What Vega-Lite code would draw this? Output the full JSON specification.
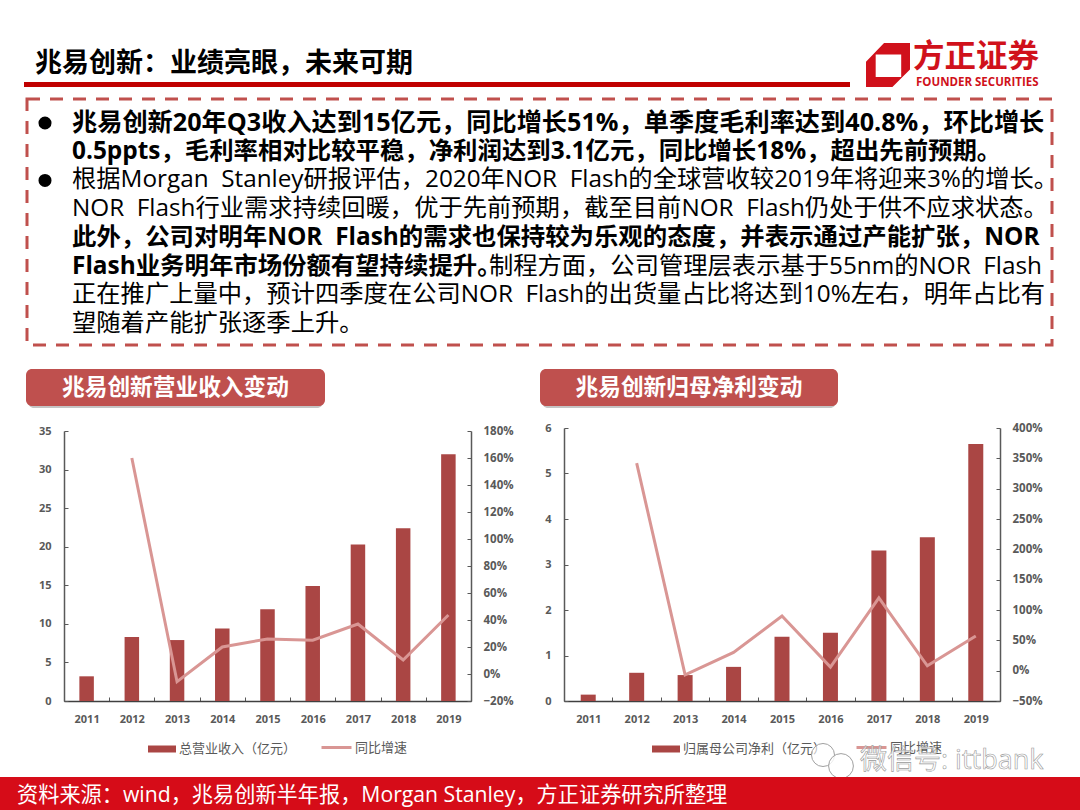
{"$schema":"https://vega.github.io/schema/vega-lite/v6.json","padding":0,"background":"white","spacing":0,"bounds":"flush","config":{"view":{"stroke":null},"font":"Open Sans, Noto Sans CJK SC","text":{"font":"Open Sans, Noto Sans CJK SC"}},"vconcat":[
{"width":1080,"height":82,"data":{"values":[{"t":"兆易创新：业绩亮眼，未来可期","k":"title"},{"t":"方正证券","k":"logo1"},{"t":"FOUNDER SECURITIES","k":"logo2"},{"t":"mark","k":"mark"}]},"layer":[
{"transform":[{"filter":"datum.k=='title'"}],"mark":{"type":"text","align":"left","baseline":"middle","fontSize":27,"fontWeight":"bold","color":"#000000","x":35,"y":64},"encoding":{"text":{"field":"t"}}},
{"transform":[{"filter":"datum.k=='logo1'"}],"mark":{"type":"text","align":"left","baseline":"middle","fontSize":31.5,"fontWeight":"bold","color":"#d0111b","font":"Noto Sans CJK SC","x":913,"y":58},"encoding":{"text":{"field":"t"}}},
{"transform":[{"filter":"datum.k=='logo2'"}],"mark":{"type":"text","align":"left","baseline":"middle","fontSize":11.5,"fontWeight":"bold","color":"#d0111b","x":916,"y":83},"encoding":{"text":{"field":"t"}}},
{"transform":[{"filter":"datum.k=='mark'"}],"mark":{"type":"point","filled":true,"shape":"M-1,-0.15L-0.18,-1L1,-1L1,0.2L0.2,1L-1,1ZM-0.56,-0.48L-0.56,0.55L0.6,0.55L0.6,-0.48Z","size":1936,"opacity":1,"color":"#d0111b","x":888,"y":65},"encoding":{}}
]},
{"hconcat":[{"width":24,"height":5,"data":{"values":[]},"mark":"rect","encoding":{}},{"width":826,"height":5,"view":{"fill":"#c00000"},"data":{"values":[]},"mark":"rect","encoding":{}}],"spacing":0,"bounds":"flush"},
{"width":1080,"height":17,"data":{"values":[]},"mark":"rect","encoding":{}},
{"hconcat":[{"width":27,"height":246,"data":{"values":[]},"mark":"rect","encoding":{}},{"width":1025,"height":246,"view":{"stroke":"#c0504d","strokeWidth":3,"strokeDash":[13,10]},"data":{"values":[
{"line":1,"w":"b","t":"兆易创新20年Q3收入达到15亿元，同比增长51%，单季度毛利率达到40.8%，环比增长"},
{"line":2,"w":"b","t":"0.5ppts，毛利率相对比较平稳，净利润达到3.1亿元，同比增长18%，超出先前预期。"},
{"line":3,"w":"n","t":"根据Morgan\u00a0\u00a0Stanley研报评估，2020年NOR\u00a0\u00a0Flash的全球营收较2019年将迎来3%的增长。"},
{"line":4,"w":"n","t":"NOR\u00a0\u00a0Flash行业需求持续回暖，优于先前预期，截至目前NOR\u00a0\u00a0Flash仍处于供不应求状态。"},
{"line":5,"w":"b","t":"此外，公司对明年NOR\u00a0\u00a0Flash的需求也保持较为乐观的态度，并表示通过产能扩张，NOR"},
{"line":6,"w":"b","t":"Flash业务明年市场份额有望持续提升。"},
{"line":6,"w":"r","t":"制程方面，公司管理层表示基于55nm的NOR\u00a0\u00a0Flash"},
{"line":7,"w":"n","t":"正在推广上量中，预计四季度在公司NOR\u00a0\u00a0Flash的出货量占比将达到10%左右，明年占比有"},
{"line":8,"w":"n","t":"望随着产能扩张逐季上升。"}
]},"encoding":{"y":{"field":"line","type":"ordinal","axis":null,"scale":{"type":"point","padding":0,"domain":[1,2,3,4,5,6,7,8],"range":[24,225]}}},"layer":[
{"transform":[{"filter":"datum.line==1"}],"mark":{"type":"text","align":"left","baseline":"middle","fontSize":25.2,"fontWeight":"bold","color":"#000000","x":45},"encoding":{"text":{"field":"t"}}},
{"transform":[{"filter":"datum.line==2||datum.line==5||datum.line==6&&datum.w=='b'"}],"mark":{"type":"text","align":"left","baseline":"middle","fontSize":24.4,"fontWeight":"bold","color":"#000000","x":45},"encoding":{"text":{"field":"t"}}},
{"transform":[{"filter":"datum.w=='n'"}],"mark":{"type":"text","align":"left","baseline":"middle","fontSize":24.3,"color":"#000000","x":45},"encoding":{"text":{"field":"t"}}},
{"transform":[{"filter":"datum.w=='r'"}],"mark":{"type":"text","align":"right","baseline":"middle","fontSize":24.3,"color":"#000000","x":1015},"encoding":{"text":{"field":"t"}}},
{"transform":[{"filter":"datum.line==1||datum.line==3"}],"mark":{"type":"point","filled":true,"shape":"circle","size":170,"opacity":1,"color":"#000000","x":18},"encoding":{}}
]}],"spacing":0,"bounds":"flush"},
{"width":1080,"height":270,"data":{"values":[]},"mark":"rect","encoding":{}},
{"hconcat":[{"width":28,"height":39,"data":{"values":[]},"mark":"rect","encoding":{}},
{"width":295,"height":39,"view":{"fill":"#c4c4c4","cornerRadius":6},"data":{"values":[]},"mark":"rect","encoding":{}},
{"width":219,"height":39,"data":{"values":[]},"mark":"rect","encoding":{}},
{"width":294,"height":39,"view":{"fill":"#c4c4c4","cornerRadius":6},"data":{"values":[]},"mark":"rect","encoding":{}}],"spacing":0,"bounds":"flush"},
{"hconcat":[{"width":26,"height":37,"data":{"values":[]},"mark":"rect","encoding":{}},
{"width":299,"height":37,"view":{"fill":"#bf504e","cornerRadius":6},"data":{"values":[{"t":"兆易创新营业收入变动"}]},"mark":{"type":"text","fontSize":22.7,"fontWeight":"bold","color":"white","baseline":"middle"},"encoding":{"text":{"field":"t"}}},
{"width":215,"height":37,"data":{"values":[]},"mark":"rect","encoding":{}},
{"width":298,"height":37,"view":{"fill":"#bf504e","cornerRadius":6},"data":{"values":[{"t":"兆易创新归母净利变动"}]},"mark":{"type":"text","fontSize":22.7,"fontWeight":"bold","color":"white","baseline":"middle"},"encoding":{"text":{"field":"t"}}}],"spacing":0,"bounds":"flush"},
{"width":1080,"height":59,"data":{"values":[]},"mark":"rect","encoding":{}},
{"hconcat":[{"width":64,"height":273,"data":{"values":[]},"mark":"rect","encoding":{}},
{"width":407,"height":273,"data":{"values":[
{"year":"2011","rev":3.2,"g":null},{"year":"2012","rev":8.3,"g":1.60},{"year":"2013","rev":7.9,"g":-0.057},{"year":"2014","rev":9.4,"g":0.20},{"year":"2015","rev":11.9,"g":0.26},{"year":"2016","rev":14.9,"g":0.25},{"year":"2017","rev":20.3,"g":0.37},{"year":"2018","rev":22.4,"g":0.104},{"year":"2019","rev":32.0,"g":0.437}]},
"encoding":{"x":{"field":"year","type":"ordinal","title":null,"scale":{"paddingInner":0,"paddingOuter":0},"axis":{"labelAngle":0,"tickBand":"extent","tickSize":-4,"tickColor":"#595959","domainColor":"#404040","domainWidth":1.5,"labelColor":"#595959","labelFontSize":11,"labelFontWeight":"bold","labelPadding":16,"grid":false}}},
"layer":[
{"mark":{"type":"bar","width":14.5},"encoding":{"y":{"field":"rev","type":"quantitative","title":null,"scale":{"domain":[0,35],"range":[273,3],"nice":false},"axis":{"values":[0,5,10,15,20,25,30,35],"grid":false,"tickSize":-4,"tickColor":"#595959","domainColor":"#595959","domainWidth":1.5,"labelColor":"#595959","labelFontSize":11,"labelFontWeight":"bold","labelPadding":17}},"color":{"datum":"总营业收入（亿元）","scale":{"range":["#aa4644"]},"legend":{"title":null,"orient":"none","legendX":83,"legendY":306,"symbolType":"M-1,-0.25H1V0.25H-1Z","symbolSize":784,"labelFontSize":13,"labelColor":"#595959","labelOffset":2}}}},
{"mark":{"type":"line","strokeWidth":3},"encoding":{"y":{"field":"g","type":"quantitative","title":null,"scale":{"domain":[-0.2,1.8],"range":[273,3],"nice":false},"axis":{"orient":"right","format":".0%","values":[-0.2,0,0.2,0.4,0.6,0.8,1,1.2,1.4,1.6,1.8],"grid":false,"tickSize":-4,"tickColor":"#595959","domainColor":"#595959","domainWidth":1.5,"labelColor":"#595959","labelFontSize":11.5,"labelFontWeight":"bold","labelPadding":16}},"stroke":{"datum":"同比增速","scale":{"range":["#d99694"]},"legend":{"title":null,"orient":"none","legendX":256,"legendY":303,"symbolType":"stroke","symbolSize":900,"symbolStrokeWidth":3,"labelFontSize":13,"labelColor":"#595959","labelOffset":2}}}}
],"resolve":{"scale":{"y":"independent"},"axis":{"y":"independent"}}},
{"width":93,"height":273,"data":{"values":[]},"mark":"rect","encoding":{}},
{"width":436,"height":273,"data":{"values":[
{"year":"2011","rev":0.14,"g":null},{"year":"2012","rev":0.62,"g":3.42},{"year":"2013","rev":0.57,"g":-0.07},{"year":"2014","rev":0.75,"g":0.30},{"year":"2015","rev":1.41,"g":0.90},{"year":"2016","rev":1.5,"g":0.06},{"year":"2017","rev":3.31,"g":1.20},{"year":"2018","rev":3.6,"g":0.08},{"year":"2019","rev":5.65,"g":0.57}]},
"encoding":{"x":{"field":"year","type":"ordinal","title":null,"scale":{"paddingInner":0,"paddingOuter":0},"axis":{"labelAngle":0,"tickBand":"extent","tickSize":-4,"tickColor":"#595959","domainColor":"#404040","domainWidth":1.5,"labelColor":"#595959","labelFontSize":11,"labelFontWeight":"bold","labelPadding":16,"grid":false}}},
"layer":[
{"mark":{"type":"bar","width":15},"encoding":{"y":{"field":"rev","type":"quantitative","title":null,"scale":{"domain":[0,6],"range":[273,0],"nice":false},"axis":{"values":[0,1,2,3,4,5,6],"grid":false,"tickSize":-4,"tickColor":"#595959","domainColor":"#595959","domainWidth":1.5,"labelColor":"#595959","labelFontSize":11,"labelFontWeight":"bold","labelPadding":17}},"color":{"datum":"归属母公司净利（亿元）","scale":{"range":["#aa4644"]},"legend":{"title":null,"orient":"none","legendX":87,"legendY":306,"symbolType":"M-1,-0.25H1V0.25H-1Z","symbolSize":784,"labelFontSize":13,"labelColor":"#595959","labelOffset":2}}}},
{"mark":{"type":"line","strokeWidth":3},"encoding":{"y":{"field":"g","type":"quantitative","title":null,"scale":{"domain":[-0.5,4],"range":[273,0],"nice":false},"axis":{"orient":"right","format":".0%","values":[-0.5,0,0.5,1,1.5,2,2.5,3,3.5,4],"grid":false,"tickSize":-4,"tickColor":"#595959","domainColor":"#595959","domainWidth":1.5,"labelColor":"#595959","labelFontSize":11.5,"labelFontWeight":"bold","labelPadding":16}},"stroke":{"datum":"同比增速","scale":{"range":["#d99694"]},"legend":{"title":null,"orient":"none","legendX":291,"legendY":303,"symbolType":"stroke","symbolSize":900,"symbolStrokeWidth":3,"labelFontSize":13,"labelColor":"#595959","labelOffset":2}}}}
],"resolve":{"scale":{"y":"independent"},"axis":{"y":"independent"}}}],"spacing":0,"bounds":"flush","resolve":{"legend":{"color":"independent","stroke":"independent"},"scale":{"color":"independent","stroke":"independent"}}},
{"width":1080,"height":273,"data":{"values":[]},"mark":"rect","encoding":{}},
{"width":1080,"height":76,"data":{"values":[{"t":"微信号: ittbank"}]},"layer":[
{"mark":{"type":"point","shape":"circle","size":530,"fill":"white","fillOpacity":0.6,"stroke":"#a0a0a0","strokeWidth":1,"opacity":1,"x":823,"y":54},"encoding":{}},
{"mark":{"type":"point","shape":"circle","size":615,"fill":"white","fillOpacity":0.8,"stroke":"#a0a0a0","strokeWidth":1,"opacity":1,"x":841,"y":65},"encoding":{}},
{"mark":{"type":"text","align":"left","baseline":"middle","fontSize":27,"fontWeight":"normal","fill":"white","fillOpacity":0.6,"stroke":"#9a9a9a","strokeWidth":0.6,"x":860,"y":60},"encoding":{"text":{"field":"t"}}}
]},
{"width":1080,"height":33,"view":{"fill":"#d60c18"},"data":{"values":[{"t":"资料来源：wind，兆易创新半年报，Morgan Stanley，方正证券研究所整理"}]},"mark":{"type":"text","align":"left","baseline":"middle","fontSize":21.2,"color":"white","x":17,"y":18.5},"encoding":{"text":{"field":"t"}}}
]}
